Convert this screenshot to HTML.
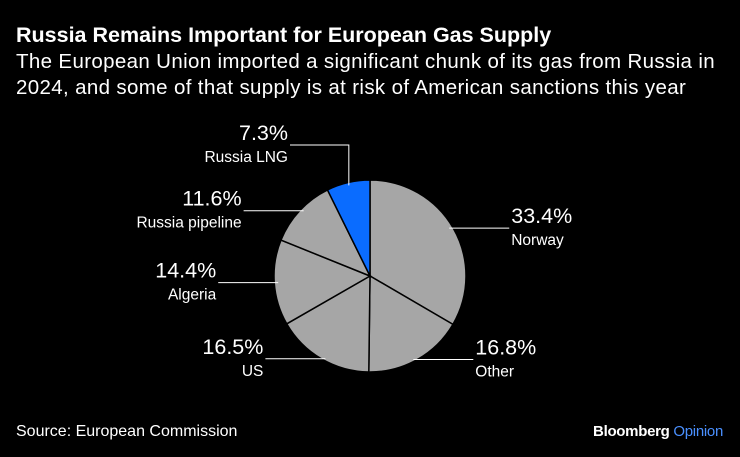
<!DOCTYPE html>
<html><head><meta charset="utf-8"><style>
body{margin:0;background:#000;width:740px;height:457px;overflow:hidden;font-family:"Liberation Sans",sans-serif;color:#fff;position:relative}
.t{position:absolute;left:16px;top:23px;font-size:21.5px;font-weight:bold;margin:0}
.s{position:absolute;left:16px;top:49px;font-size:20.5px;letter-spacing:0.35px;line-height:26px;width:730px}
.src{position:absolute;left:16px;top:423px;font-size:16px}
.logo{position:absolute;right:17px;top:423px;font-size:15px;font-weight:bold;letter-spacing:-0.3px}
</style></head><body>
<h1 class="t">Russia Remains Important for European Gas Supply</h1>
<div class="s">The European Union imported a significant chunk of its gas from Russia in<br>2024, and some of that supply is at risk of American sanctions this year</div>
<svg id="c" width="740" height="457" style="position:absolute;left:0;top:0"></svg>
<div class="src">Source: European Commission</div>
<div class="logo">Bloomberg <span style="color:#4a90ff;font-weight:normal">Opinion</span></div>
<script>
const categories=["Norway","Other","US","Algeria","Russia pipeline","Russia LNG"];
const values=[33.4,16.8,16.5,14.4,11.6,7.3];
const colors=["#a6a6a6","#a6a6a6","#a6a6a6","#a6a6a6","#a6a6a6","#0a6cff"];
const cx=370,cy=276,r=96;
const svg=document.getElementById('c');
const NS='http://www.w3.org/2000/svg';
const total=values.reduce((a,b)=>a+b,0);
let acc=0;
function pt(a,rr){return [cx+rr*Math.sin(a),cy-rr*Math.cos(a)];}
values.forEach((v,i)=>{
  const a0=acc/total*2*Math.PI;acc+=v;const a1=acc/total*2*Math.PI;
  const p0=pt(a0,r),p1=pt(a1,r);
  const p=document.createElementNS(NS,'path');
  p.setAttribute('d',`M${cx},${cy}L${p0[0]},${p0[1]}A${r},${r} 0 ${a1-a0>Math.PI?1:0} 1 ${p1[0]},${p1[1]}Z`);
  p.setAttribute('fill',colors[i]);p.setAttribute('stroke','#000');p.setAttribute('stroke-width','1.5');
  
  
  svg.appendChild(p);
  const mid=(a0+a1)/2;
  const right=Math.sin(mid)>0;
  const g=document.createElementNS(NS,'g');
  
  
  let ly,d,lx2;
  if(i===5){
    const e=pt(mid,r*0.97);
    ly=145;lx2=290;
    d=`M${e[0]},${e[1]}L${e[0]},${ly}L${lx2},${ly}`;
  }else{
    ly=cy-Math.cos(mid)*r*1.0;
    const dy=ly-cy;const dx=Math.sqrt(Math.max(r*r-dy*dy,0));
    const sx=right?cx+dx-4:cx-dx+4;
    lx2=right?sx+60:sx-60;
    d=`M${sx},${ly}L${lx2},${ly}`;
  }
  const ln=document.createElementNS(NS,'path');
  ln.setAttribute('d',d);ln.setAttribute('stroke','#fff');ln.setAttribute('fill','none');ln.setAttribute('stroke-width','1');
  g.appendChild(ln);
  const anchor=right?'start':'end';const tx=right?lx2+2:lx2-2;
  const t1=document.createElementNS(NS,'text');t1.setAttribute('x',tx);t1.setAttribute('y',ly-5);t1.setAttribute('text-anchor',anchor);t1.setAttribute('font-size','21.5');t1.setAttribute('fill','#fff');t1.textContent=v.toFixed(1)+'%';
  const t2=document.createElementNS(NS,'text');t2.setAttribute('x',tx);t2.setAttribute('y',ly+17);t2.setAttribute('text-anchor',anchor);t2.setAttribute('font-size','15.5');t2.setAttribute('fill','#fff');t2.textContent=categories[i];
  g.appendChild(t1);g.appendChild(t2);svg.appendChild(g);
});
</script>
</body></html>
